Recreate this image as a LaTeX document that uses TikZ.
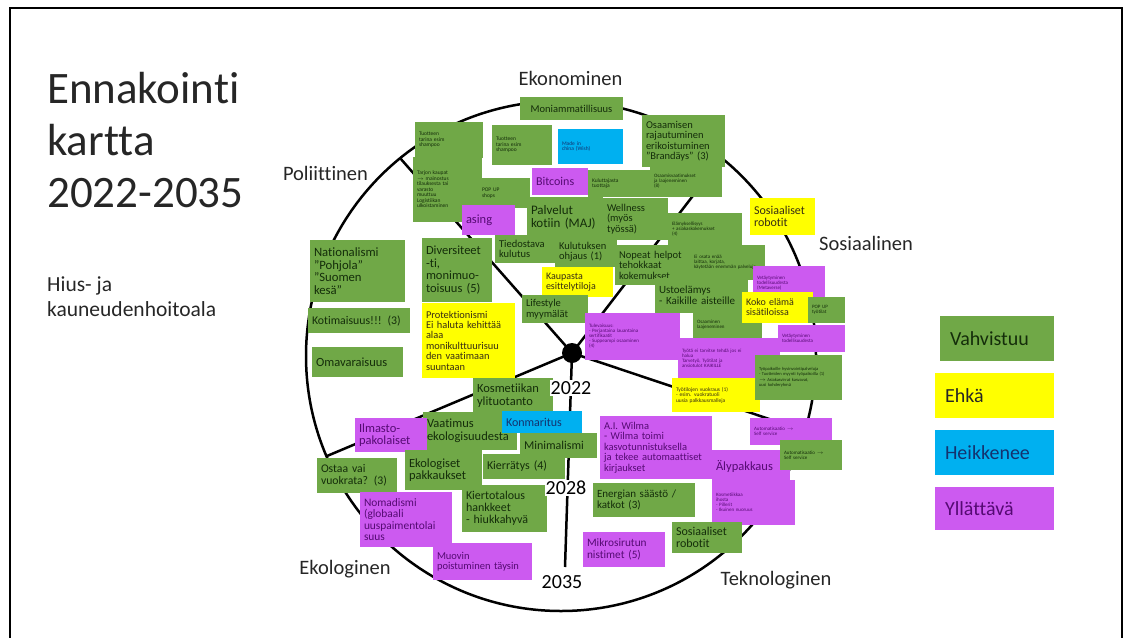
\documentclass[tikz,border=0pt]{standalone}
\usepackage{fontspec}
\setmainfont{Carlito}[Ligatures=NoCommon]
\usetikzlibrary{positioning}

\definecolor{vahvavari}{RGB}{112,168,71}
\definecolor{ehkavari}{RGB}{255,255,0}
\definecolor{heikkovari}{RGB}{0,176,240}
\definecolor{yllatysvari}{RGB}{204,90,240}
\definecolor{vahvateksti}{RGB}{20,45,10}
\definecolor{ehkateksti}{RGB}{55,45,20}
\definecolor{heikkoteksti}{RGB}{20,50,110}
\definecolor{yllatysteksti}{RGB}{85,10,115}

\begin{document}
\begin{tikzpicture}[x=1pt, y=-1pt,
    every node/.style={inner xsep=4pt, inner ysep=1pt, align=left},
    fs/.style={font=\fontsize{#1}{#1}\selectfont},
    lappu/.style 2 args={text width=#1pt, minimum height=#2pt},
    vahva/.style={fill=vahvavari, text=vahvateksti},
    ehka/.style={fill=ehkavari, text=ehkateksti},
    heikko/.style={fill=heikkovari, text=heikkoteksti},
    yllatys/.style={fill=yllatysvari, text=yllatysteksti},
    sektori/.style={fs=20.5, text=black!85, inner sep=0},
    vuosi/.style={fs=20, fill=white, inner sep=1pt},
    selite/.style={fs=20, text width=94pt, inner xsep=10pt, minimum height=45pt}]

    \useasboundingbox (0,0) rectangle (1132,637);
    \draw[line width=1.4pt] (10,8) rectangle (1122,660);

    % Otsikko
    \node[anchor=north west, inner sep=0, font=\fontsize{45}{52}\selectfont, text=black!85] (otsikko) at (47,72) {Ennakointi\\kartta\\2022-2035};
    \node[anchor=north west, inner sep=0, font=\fontsize{21.5}{25}\selectfont, text=black!85] (ala) at (47,277) {Hius- ja\\kauneudenhoitoala};

    % Ympyrä ja sektorit
    \draw[line width=2.5pt] (561,356) circle (255pt);
    \node[circle, fill=black, minimum size=20pt, inner sep=0] (keski) at (572,353) {};
    \coordinate (p1) at (400,158);
    \coordinate (p2) at (722,158);
    \coordinate (p3) at (805,431);
    \coordinate (p4) at (327,456);
    \coordinate (aika) at (565,567);
    \draw[line width=2.5pt] (keski.center) -- (p1);
    \draw[line width=2.5pt] (keski.center) -- (p2);
    \draw[line width=2.5pt] (keski.center) -- (p3);
    \draw[line width=2.5pt] (keski.center) -- (p4);
    \draw[line width=2.5pt] (keski.center) -- (aika);

    \node[sektori] (ekonominen) at (570.5,78) {Ekonominen};
    \node[sektori] (poliittinen) at (325.5,173) {Poliittinen};
    \node[sektori] (sosiaalinen) at (866,243) {Sosiaalinen};
    \node[sektori] (teknologinen) at (776,580) {Teknologinen};
    \node[sektori] (ekologinen) at (345,569) {Ekologinen};

    % Laput: ekonominen
    \node[vahva, lappu={95}{23}, fs=10.5, align=center] (moni) at (571.5,108.5) {Moniammatillisuus};
    \node[vahva, lappu={52}{40}, fs=5.5] (tarina1) at (522,145) {Tuotteen\\tarina esim\\shampoo};
    \node[heikko, lappu={57}{35}, fs=5.5] (madein) at (590.5,146.5) {Made in\\china (Wish)};
    \node[vahva, lappu={60}{36}, fs=5.5] (tarina2) at (449,140) {Tuotteen\\tarina esim\\shampoo};
    \node[vahva, lappu={44}{30}, fs=5.5] (popup) at (504,193) {POP UP\\shops};
    \node[vahva, lappu={61}{65}, fs=5.5] (tarjonta) at (447.5,189.5) {Tarjon kaupat\\$\rightarrow$ mainostus\\tilauksesta tai\\varasto\\muuttuu\\Logistiikan\\ulkoistaminen};
    \node[yllatys, lappu={48}{27}, fs=12] (bitcoins) at (560,181.5) {Bitcoins};
    \node[vahva, lappu={72}{27}, fs=5.5] (kuluttaja) at (628,183.5) {Kuluttajasta\\tuottaja};
    \node[vahva, lappu={75}{52}, fs=10.5] (osaamisen) at (683.5,141) {Osaamisen\\rajautuminen\\erikoistuminen\\"Brandäys" (3)};
    \node[vahva, lappu={64}{32}, fs=5] (laajeneminen) at (686,181) {Osaamisvaatimukset\\ja laajeneminen\\(8)};
    \node[yllatys, lappu={45}{30}, fs=12.5] (leasing) at (488.5,220) {asing};
    \node[vahva, lappu={68}{40}, fs=13] (palvelut) at (565,217) {Palvelut\\kotiin (MAJ)};
    \node[vahva, lappu={57}{42}, fs=10.5] (wellness) at (635.5,219) {Wellness\\(myös\\työssä)};
    \node[vahva, lappu={54}{28}, fs=10.5] (tiedostava) at (526,249) {Tiedostava\\kulutus};
    \node[vahva, lappu={54}{30}, fs=10.5] (ohjaus) at (586,252) {Kulutuksen\\ohjaus (1)};
    \node[vahva, lappu={67}{40}, fs=10.5] (nopeat) at (652.5,265) {Nopeat helpot\\tehokkaat\\kokemukset};
    \node[ehka, lappu={63}{30}, fs=10] (kaupasta) at (577.5,282) {Kaupasta\\esittelytiloja};
    \node[vahva, lappu={58}{28}, fs=10.5] (lifestyle) at (555,309) {Lifestyle\\myymälät};

    % Laput: poliittinen
    \node[vahva, lappu={87}{62}, fs=12.7] (nationalismi) at (357.5,271) {Nationalismi\\"Pohjola"\\"Suomen\\kesä"};
    \node[vahva, lappu={94}{25}, fs=11.8] (kotimaisuus) at (359,320.5) {Kotimaisuus!!! (3)};
    \node[vahva, lappu={83}{30}, fs=12.5] (omavaraisuus) at (357.5,362) {Omavaraisuus};
    \node[vahva, lappu={62}{64}, fs=12.5] (diversiteetti) at (457,270) {Diversiteet\\-ti,\\monimuo-\\toisuus (5)};
    \node[ehka, lappu={85}{75}, fs=10.4] (protektionismi) at (468.5,340.5) {Protektionismi\\Ei haluta kehittää\\alaa\\monikulttuurisuu\\den vaatimaan\\suuntaan};

    % Laput: sosiaalinen
    \node[ehka, lappu={57}{37}, fs=12] (sosrobo) at (782.5,216.5) {Sosiaaliset\\robotit};
    \node[vahva, lappu={66}{32}, fs=5] (elamys) at (705,229) {Elämyksellisyys\\+ asiakaskokemukset\\(4)};
    \node[vahva, lappu={67}{35}, fs=5] (eiosata) at (727.5,262.5) {Ei osata enää\\laittaa, korjata,\\käytetään enemmän palveluja};
    \node[vahva, lappu={85}{35}, fs=11] (ostoelamys) at (701.5,295.5) {Ustoelämys\\- Kaikille aisteille};
    \node[yllatys, lappu={64}{34}, fs=5] (vetay1) at (789,283) {Vetäytyminen\\todellisuudesta\\(Metaverse)};
    \node[vahva, lappu={61}{26}, fs=5] (osaaminen) at (727.5,325) {Osaaminen\\laajeneminen};
    \node[ehka, lappu={63}{31}, fs=10] (koko) at (777.5,307.5) {Koko elämä\\sisätiloissa};
    \node[vahva, lappu={29}{26}, fs=5] (popup2) at (826.5,310) {POP UP\\työtilat};
    \node[yllatys, lappu={59}{27}, fs=5] (vetay2) at (811.5,338.5) {Vetäytyminen\\todellisuudesta};
    \node[yllatys, lappu={87}{47}, fs=5] (tulevaisuus) at (632.5,336.5) {Tulevaisuus:\\- Perjantaina lauantaina\\sertifikaatit\\- Suppeampi osaaminen\\(4)};
    \node[yllatys, lappu={94}{40}, fs=5] (tyota) at (729,358) {Työtä ei tarvitse tehdä jos ei\\halua\\Tarvetyö, Työtilat ja\\ansiotulot KAIKILLE};
    \node[ehka, lappu={80}{34}, fs=5.5] (tyotila) at (716,395) {Työtilojen vuokraus (1)\\- esim. vuokratuoli\\uusia palkkausmalleja};
    \node[vahva, lappu={79}{45}, fs=4.5] (tyopaikka) at (798.5,377.5) {Työpaikoille hyvinvointipalveluja\\- Tuotteiden myynti työpaikoilla (1)\\[2pt]$\rightarrow$ Asiakasvirrat kasvavat,\\uusi kohderyhmä};

    % Laput: teknologinen
    \node[yllatys, lappu={74}{27}, fs=5] (auto1) at (791,431.5) {Automatisaatio $\rightarrow$\\Self service};
    \node[yllatys, lappu={104}{63}, fs=10.5] (wilma) at (656,447.5) {A.I. Wilma\\- Wilma toimi\\kasvotunnistuksella\\ja tekee automaattiset\\kirjaukset};
    \node[yllatys, lappu={70}{32}, fs=12.5] (alypakkaus) at (751,466) {Älypakkaus};
    \node[vahva, lappu={54}{30}, fs=5] (auto2) at (811,455) {Automatisaatio $\rightarrow$\\Self service};
    \node[yllatys, lappu={75}{45}, fs=5] (kosmetiikka) at (753.5,502.5) {Kosmetiikkaa\\ihosta\\- Pillerit\\- Ikuinen nuoruus};
    \node[vahva, lappu={94}{34}, fs=11] (energia) at (644,500) {Energian säästö /\\katkot (3)};
    \node[yllatys, lappu={74}{35}, fs=11.3] (mikrosiru) at (624,549.5) {Mikrosirutun\\nistimet (5)};
    \node[vahva, lappu={62}{31}, fs=12] (sosrobo2) at (707,537.5) {Sosiaaliset\\robotit};

    % Laput: ekologinen
    \node[vahva, lappu={72}{35}, fs=12.5] (kosmylitu) at (513,395.5) {Kosmetiikan\\ylituotanto};
    \node[vahva, lappu={86}{38}, fs=12.5] (vaatimus) at (470,431) {Vaatimus\\ekologisuudesta};
    \node[heikko, lappu={72}{22}, fs=12] (konmaritus) at (542,422) {Konmaritus};
    \node[vahva, lappu={69}{25}, fs=12] (minimalismi) at (558.5,445.5) {Minimalismi};
    \node[yllatys, lappu={64}{34}, fs=12.5] (ilmasto) at (391,435) {Ilmasto-\\pakolaiset};
    \node[vahva, lappu={69}{40}, fs=12.5] (ekopakkaus) at (443.5,470) {Ekologiset\\pakkaukset};
    \node[vahva, lappu={74}{25}, fs=12] (kierratys) at (524,466.5) {Kierrätys (4)};
    \node[vahva, lappu={77}{47}, fs=12] (kiertotalous) at (504.5,508.5) {Kiertotalous\\hankkeet\\- hiukkahyvä};
    \node[vahva, lappu={72}{35}, fs=11.7] (ostaa) at (357,475.5) {Ostaa vai\\vuokrata? (3)};
    \node[yllatys, lappu={84}{55}, fs=11.4] (nomadismi) at (406,519.5) {Nomadismi\\(globaali\\uuspaimentolai\\suus};
    \node[yllatys, lappu={91}{37}, fs=10.5] (muovin) at (482.5,561.5) {Muovin\\poistuminen täysin};

    % Aikajana
    \node[vuosi] (v2022) at (571,388) {2022};
    \node[vuosi] (v2028) at (566,488) {2028};
    \node[vuosi] (v2035) at (562,582) {2035};

    % Selitteet
    \node[selite, fill=vahvavari, text=vahvateksti] (vahvistuu) at (997,338.5) {Vahvistuu};
    \node[selite, fill=ehkavari, text=black!85, text width=99pt] (ehkaa) at (994.5,395.5) {Ehkä};
    \node[selite, fill=heikkovari, text=heikkoteksti, text width=99pt] (heikkenee) at (994.5,452.5) {Heikkenee};
    \node[selite, fill=yllatysvari, text=yllatysteksti, text width=99pt, minimum height=43pt] (yllattava) at (994.5,508.5) {Yllättävä};
\end{tikzpicture}
\end{document}
